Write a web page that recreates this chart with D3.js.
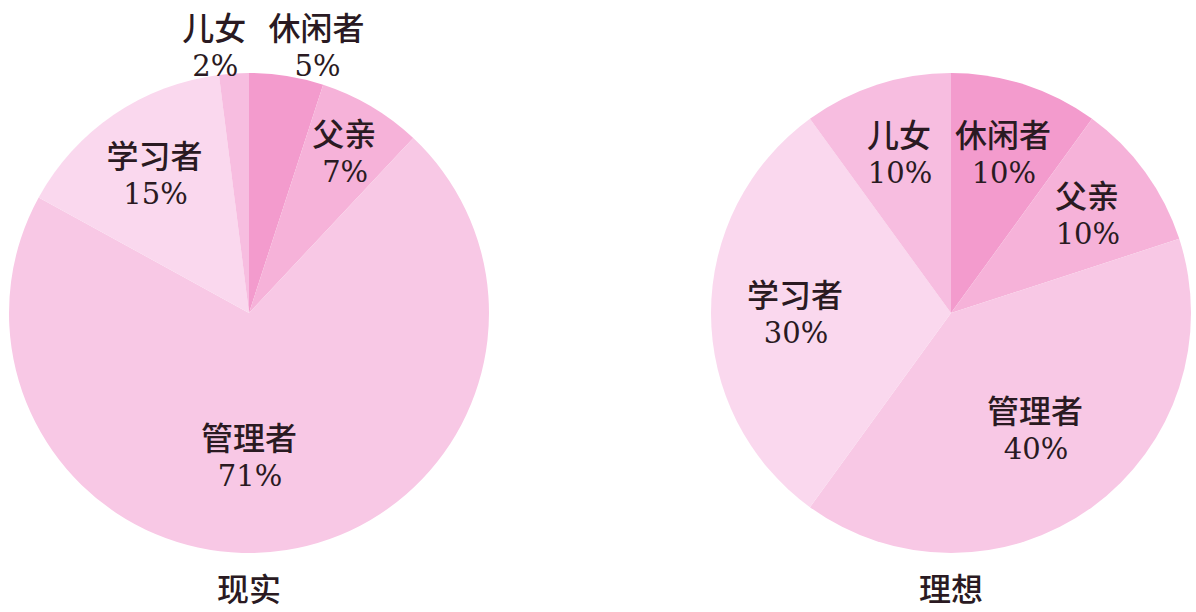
<!DOCTYPE html>
<html><head><meta charset="utf-8">
<script src="https://cdn.jsdelivr.net/npm/d3@7/dist/d3.min.js"></script>
<style>
html,body{margin:0;padding:0;background:#fff;}
svg{display:block;}
text{fill:#2a1a22;}
.zh{font-family:"Noto Sans CJK SC",sans-serif;font-size:32px;font-weight:500;}
.num{font-family:"DejaVu Serif","Liberation Serif",serif;font-size:29px;}
</style></head>
<body>
<svg id="chart" width="1196" height="612"></svg>
<script>
const categories = ["休闲者", "父亲", "管理者", "学习者", "儿女"];
const realityValues = [5, 7, 71, 15, 2];
const idealValues = [10, 10, 40, 30, 10];
const chartTitles = ["现实", "理想"];
const sliceColors = ["#f39bcd", "#f6b2d9", "#f8c8e5", "#fad8ee", "#f7bde0"];

const svg = d3.select("#chart");
const R = 240;
const centers = d3.scalePoint().domain(chartTitles).range([249, 951]);
const cy = 313;

const pie = d3.pie().sort(null).value(d => d.v);
const arc = d3.arc().innerRadius(0).outerRadius(R);
const color = d3.scaleOrdinal().domain(categories).range(sliceColors);

[realityValues, idealValues].forEach((vals, ci) => {
  const data = categories.map((c, i) => ({c, v: vals[i]}));
  const total = d3.sum(vals);
  const cx = centers(chartTitles[ci]);
  const g = svg.append("g").attr("transform", `translate(${cx},${cy})`);
  const arcs = pie(data);
  g.selectAll("path").data(arcs).join("path")
    .attr("d", arc)
    .attr("fill", d => color(d.data.c));

  const labels = g.selectAll("g.lab").data(arcs).join("g").attr("class", "lab");
  labels.each(function(d) {
    const frac = d.data.v / total;
    const mid = (d.startAngle + d.endAngle) / 2;
    let x, y; // block centre
    if (frac < 0.06) {
      const ro = R + 26;
      x = Math.sin(mid) * ro + (Math.sin(mid) >= 0 ? 26 : -18);
      y = -R - 27;
    } else {
      const lr = frac > 0.35 ? 143 : frac >= 0.2 ? 156 : frac < 0.08 ? 187 : 168;
      const a = frac > 0.6 ? Math.PI : mid;
      x = Math.sin(a) * lr;
      y = -Math.cos(a) * lr;
    }
    const sel = d3.select(this);
    sel.append("text").attr("class", "zh")
      .attr("text-anchor", "middle")
      .attr("x", x).attr("y", y - 6).text(d.data.c);
    sel.append("text").attr("class", "num")
      .attr("text-anchor", "middle")
      .attr("x", x + 1).attr("y", y + 30).text(d.data.v + "%");
  });

  svg.append("text").attr("class", "zh")
    .attr("x", cx).attr("y", 601)
    .attr("text-anchor", "middle")
    .text(chartTitles[ci]);
});
</script>
</body></html>
